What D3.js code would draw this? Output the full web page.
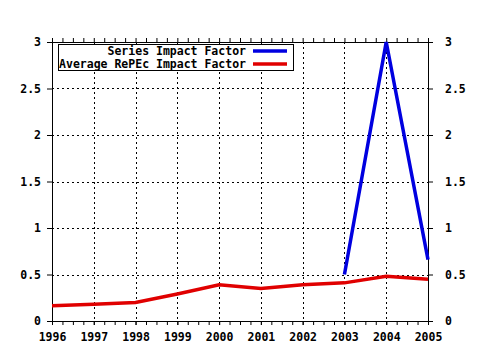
<!DOCTYPE html>
<html>
<head>
<meta charset="utf-8">
<script src="https://cdn.jsdelivr.net/npm/d3@7"></script>
<style>
  body { margin: 0; background: #fff; }
  text { font-family: "DejaVu Sans Mono", monospace; font-weight: bold; font-size: 11.5px; fill: #000; }
</style>
</head>
<body>
<svg id="chart" width="480" height="350"></svg>
<script>
const years = [1996, 1997, 1998, 1999, 2000, 2001, 2002, 2003, 2004, 2005];
const averageImpact = [0.165, 0.18, 0.2, 0.29, 0.39, 0.35, 0.39, 0.41, 0.48, 0.45];
const seriesYears = [2003, 2004, 2005];
const seriesImpact = [0.5, 3.0, 0.66];
const yTicks = [0, 0.5, 1, 1.5, 2, 2.5, 3];
const yTickLabels = ["0", "0.5", "1", "1.5", "2", "2.5", "3"];
const legendLabels = ["Series Impact Factor", "Average RePEc Impact Factor"];
const legendColors = ["#0000e0", "#e00000"];

const svg = d3.select("#chart");
const plotLeft = 52, plotRight = 428, plotTop = 42, plotBottom = 321;

const x = d3.scaleLinear().domain([1996, 2005]).range([plotLeft, plotRight]);
const y = d3.scaleLinear().domain([0, 3]).range([plotBottom, plotTop]);

// dotted grid
const grid = svg.append("g").attr("stroke", "#000").attr("stroke-width", 1)
  .attr("stroke-dasharray", "2,3").attr("shape-rendering", "crispEdges");
grid.selectAll(".gx").data(years.slice(1, -1)).join("line")
  .attr("x1", d => Math.round(x(d)) + 0.5).attr("x2", d => Math.round(x(d)) + 0.5)
  .attr("y1", plotTop).attr("y2", plotBottom);
grid.selectAll(".gy").data(yTicks.slice(1, -1)).join("line")
  .attr("y1", d => Math.round(y(d)) + 0.5).attr("y2", d => Math.round(y(d)) + 0.5)
  .attr("x1", plotLeft).attr("x2", plotRight);

// quarter-year minor ticks
const minor = d3.range(1996, 2005.001, 0.25);

const axisStyle = g => {
  g.select(".domain").remove();
  g.selectAll("line").attr("stroke", "#000");
  g.attr("font-size", null).attr("font-family", null);
};

svg.append("g").attr("transform", `translate(0,${plotBottom})`)
  .call(d3.axisBottom(x).tickValues(minor).tickSize(4).tickFormat(""))
  .call(axisStyle);
svg.append("g").attr("transform", `translate(0,${plotBottom})`)
  .call(d3.axisBottom(x).tickValues(years).tickSize(4).tickPadding(8).tickFormat(d3.format("d")))
  .call(axisStyle);
svg.append("g").attr("transform", `translate(0,${plotTop})`)
  .call(d3.axisTop(x).tickValues(minor).tickSize(4).tickFormat(""))
  .call(axisStyle);
svg.append("g").attr("transform", `translate(${plotLeft},0)`)
  .call(d3.axisLeft(y).tickValues(yTicks).tickSize(5).tickPadding(6).tickFormat((d, i) => yTickLabels[i]))
  .call(axisStyle);
svg.append("g").attr("transform", `translate(${plotRight},0)`)
  .call(d3.axisRight(y).tickValues(yTicks).tickSize(5).tickPadding(12).tickFormat((d, i) => yTickLabels[i]))
  .call(axisStyle);

// frame
svg.append("rect").attr("x", plotLeft + 0.5).attr("y", plotTop + 0.5)
  .attr("width", plotRight - plotLeft).attr("height", plotBottom - plotTop)
  .attr("fill", "none").attr("stroke", "#000").attr("shape-rendering", "crispEdges");

const line = d3.line().x(d => x(d[0])).y(d => y(d[1]));

svg.append("path")
  .datum(years.map((d, i) => [d, averageImpact[i]]))
  .attr("d", line).attr("fill", "none").attr("stroke", legendColors[1]).attr("stroke-width", 3.5);
svg.append("path")
  .datum(seriesYears.map((d, i) => [d, seriesImpact[i]]))
  .attr("d", line).attr("fill", "none").attr("stroke", legendColors[0]).attr("stroke-width", 3.5);

// legend
const lg = svg.append("g");
lg.append("rect").attr("x", 58.5).attr("y", 44.5).attr("width", 235).attr("height", 26)
  .attr("fill", "#fff").attr("stroke", "#000").attr("shape-rendering", "crispEdges");
legendLabels.forEach((t, i) => {
  const ly = 51 + i * 13;
  lg.append("text").attr("x", 246).attr("y", ly + 4).attr("text-anchor", "end").text(t);
  lg.append("line").attr("x1", 253).attr("x2", 287).attr("y1", ly).attr("y2", ly)
    .attr("stroke", legendColors[i]).attr("stroke-width", 3.5);
});
</script>
</body>
</html>
